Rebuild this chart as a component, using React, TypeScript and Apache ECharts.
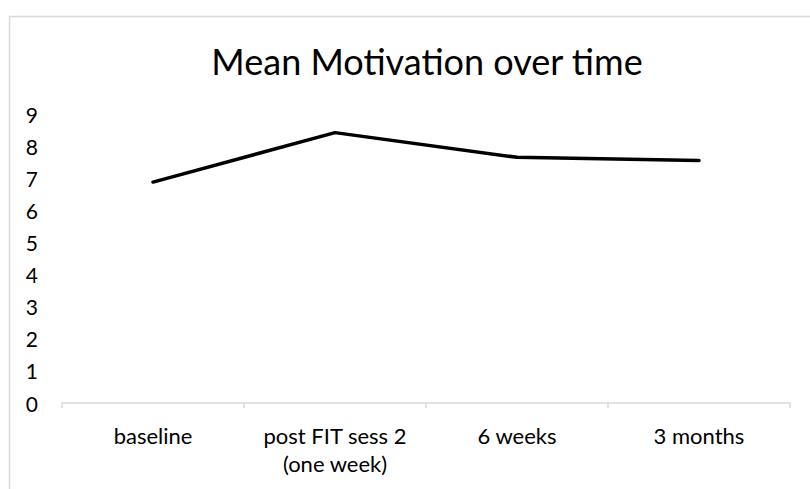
import React, { useEffect, useRef } from "react";
import * as echarts from "echarts";

const categories = ["baseline", "post FIT sess 2\n(one week)", "6 weeks", "3 months"];
const motivation = [6.88, 8.42, 7.65, 7.55];
const yMin = 0;
const yMax = 9;
const yStep = 1;
const chartTitle = "Mean Motivation over time";

const FONT = "Lato, 'Open Sans', sans-serif";

export default function App() {
  const ref = useRef<HTMLDivElement>(null);
  useEffect(() => {
    if (!ref.current) return;
    const chart = echarts.init(ref.current, null, { renderer: "svg" });
    chart.setOption({
      animation: false,
      backgroundColor: "#ffffff",
      textStyle: { fontFamily: FONT },
      title: {
        text: chartTitle,
        left: 422,
        top: 38,
        textAlign: "center",
        textStyle: { fontFamily: FONT, fontSize: 36, fontWeight: "normal", color: "#000000" },
      },
      graphic: [
        {
          type: "rect",
          shape: { x: 9.5, y: 16.5, width: 1000, height: 800 },
          style: { fill: "none", stroke: "#d9d9d9", lineWidth: 1.5 },
          silent: true,
          z: -1,
        },
      ],
      grid: { left: 62, right: 20, top: 114, bottom: 86 },
      xAxis: {
        type: "category",
        data: categories,
        boundaryGap: true,
        axisLine: { show: true, lineStyle: { color: "#d9d9d9", width: 1.5 } },
        axisTick: { show: true, length: 5, alignWithLabel: false, interval: 0, lineStyle: { color: "#d9d9d9", width: 1.5 } },
        axisLabel: {
          interval: 0,
          hideOverlap: false,
          color: "#000000",
          fontFamily: FONT,
          fontSize: 22,
          lineHeight: 28,
          margin: 18,
        },
        splitLine: { show: false },
      },
      yAxis: {
        type: "value",
        min: yMin,
        max: yMax,
        interval: yStep,
        axisLine: { show: false },
        axisTick: { show: false },
        splitLine: { show: false },
        axisLabel: { color: "#000000", fontFamily: FONT, fontSize: 21, margin: 24 },
      },
      series: [
        {
          type: "line",
          data: motivation,
          symbol: "none",
          lineStyle: { color: "#000000", width: 3.5, cap: "round", join: "round" },
        },
      ],
    });
    return () => chart.dispose();
  }, []);
  return (
    <div
      ref={ref}
      style={{ position: "absolute", left: 0, top: 0, width: 810, height: 489 }}
    />
  );
}
